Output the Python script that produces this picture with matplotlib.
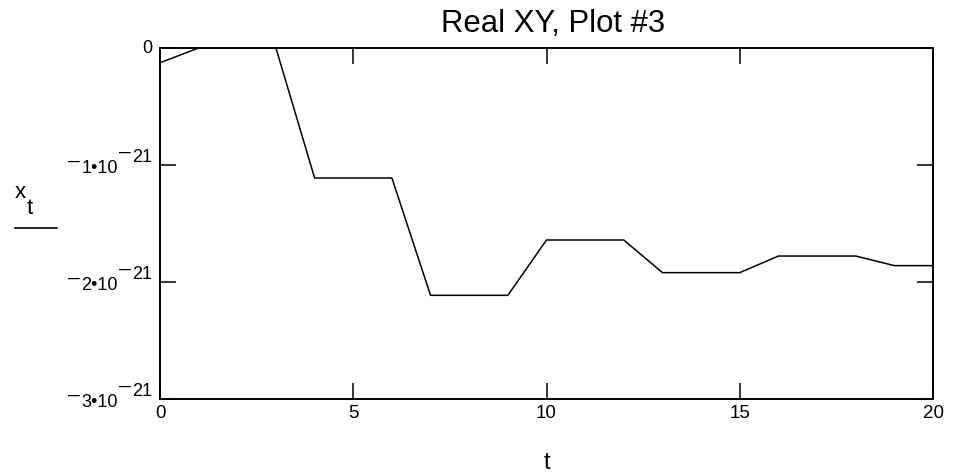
import matplotlib
matplotlib.use('Agg')
import matplotlib.pyplot as plt
from matplotlib.lines import Line2D

plt.rcParams['font.family'] = ['Liberation Sans', 'DejaVu Sans']

# data
t = list(range(21))
x_t = [-0.126, 0, 0, 0, -1.111, -1.111, -1.111, -2.114, -2.114, -2.114,
       -1.641, -1.641, -1.641, -1.92, -1.92, -1.92, -1.778, -1.778, -1.778,
       -1.86, -1.86]
x_t = [v * 1e-21 for v in x_t]

ymant = [0, 1, 2, 3]          # y ticks are -m * 10^-21
yexp = '21'
xticks = [0, 5, 10, 15, 20]

W, H = 954, 476
PX = 72 / 100   # pixels -> points

fig = plt.figure(figsize=(W / 100, H / 100), dpi=100)
ax = fig.add_axes([160 / W, 1 - 399 / H, 773 / W, 351 / H])

ax.plot(t, x_t, color='black', lw=1.1)
ax.set_xlim(0, 20)
ax.set_ylim(-3e-21, 0)

ax.set_xticks(xticks)
ax.set_xticklabels([str(v) for v in xticks])
ax.set_yticks([-m * 1e-21 for m in ymant])
ax.set_yticklabels([])
ax.tick_params(direction='in', length=11.5, width=1.1, top=True, right=True,
               labelsize=13.5, pad=4)
for s in ax.spines.values():
    s.set_linewidth(1.4)


def piece(txt, val, dx, dy, va='baseline', size=13, weight='normal'):
    ax.annotate(txt, xy=(0, val), xycoords=('axes fraction', 'data'),
                xytext=(dx * PX, dy * PX), textcoords='offset points',
                ha='right', va=va, fontsize=size, fontweight=weight)


# Mathcad-style y tick labels: raised long minus signs, full-size exponent
for m in ymant:
    v = -m * 1e-21
    if m == 0:
        piece('0', v, -8, 0, va='center', size=13)
        continue
    piece(yexp, v, -8, 3)
    piece('\u2014', v, -29, 12, va='center', size=8.5, weight='bold')
    piece('%d\u202210' % m, v, -42, -8)
    piece('\u2014', v, -80, 3, va='center', size=8.5, weight='bold')

# title and axis labels
fig.text(553 / W, 1 - 32 / H, 'Real XY, Plot #3', fontsize=22.4,
         ha='center', va='baseline')
fig.text(547 / W, 1 - 469 / H, 't', fontsize=17, ha='center', va='baseline')

fig.text(15 / W, 1 - 198 / H, 'x', fontsize=16, ha='left', va='baseline')
fig.text(27 / W, 1 - 214 / H, 't', fontsize=16, ha='left', va='baseline')
fig.add_artist(Line2D([15 / W, 57 / W], [1 - 228 / H, 1 - 228 / H],
                      color='black', lw=1.2, transform=fig.transFigure))

fig.savefig('out.png', dpi=100)
